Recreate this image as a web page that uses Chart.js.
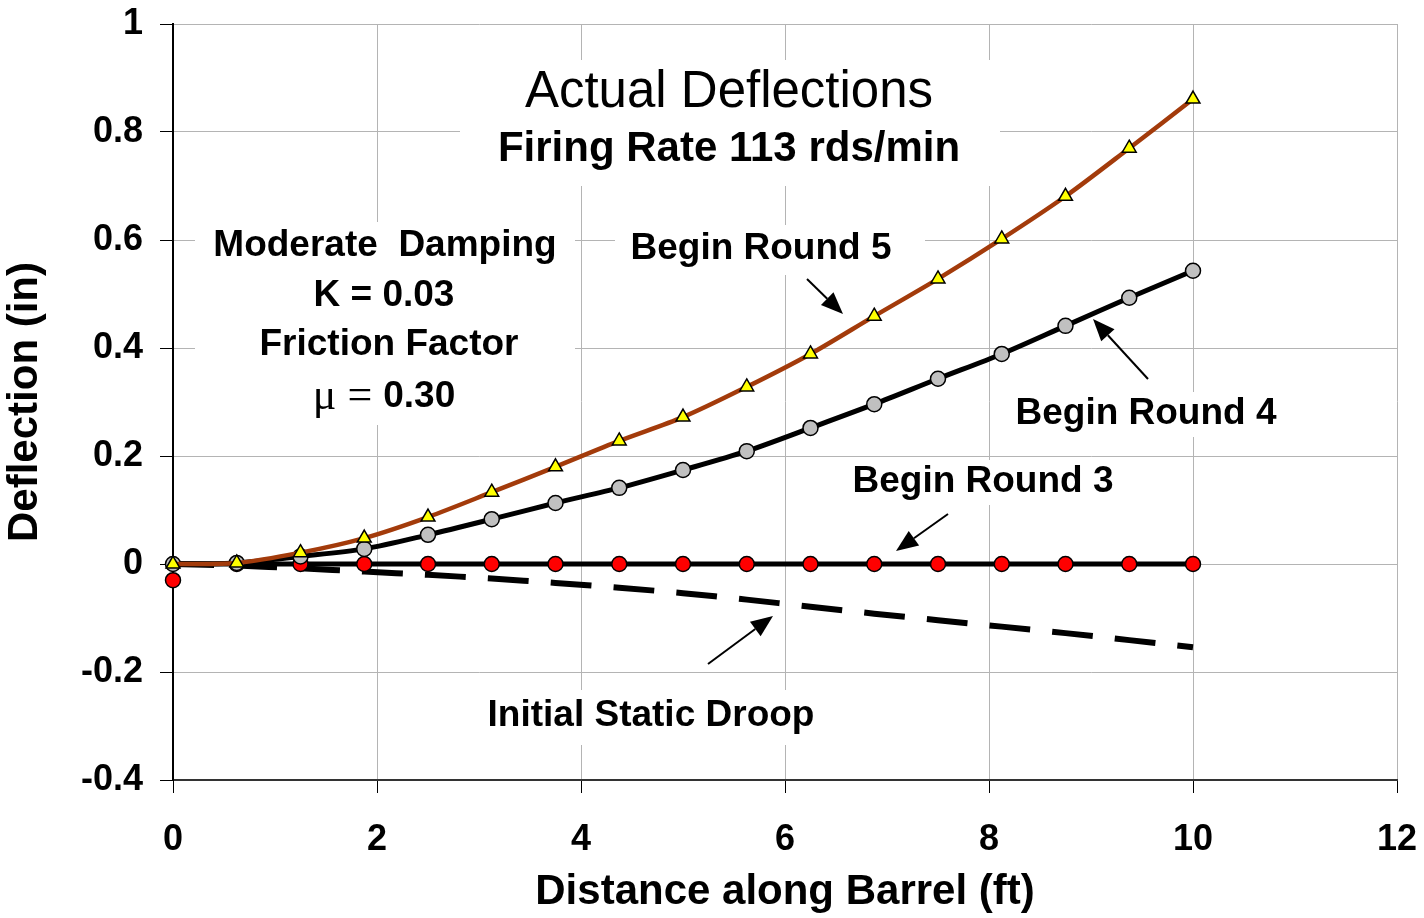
<!DOCTYPE html>
<html>
<head>
<meta charset="utf-8">
<script src="https://cdn.jsdelivr.net/npm/chart.js@4.4.1/dist/chart.umd.min.js"></script>
<style>
  body { margin: 0; background: #fff; }
  canvas { display: block; }
</style>
</head>
<body>
<canvas id="deflection-chart" width="1424" height="918"></canvas>
<script>
// distance along barrel (ft) for every sample
const distance = [0, 0.625, 1.25, 1.875, 2.5, 3.125, 3.75, 4.375, 5, 5.625, 6.25, 6.875, 7.5, 8.125, 8.75, 9.375, 10];

// deflections (in)
const round5 = [0, 0.002, 0.021, 0.048, 0.087, 0.133, 0.18, 0.228, 0.272, 0.328, 0.389, 0.459, 0.528, 0.602, 0.681, 0.77, 0.861];
const round4 = [0, 0.002, 0.014, 0.028, 0.054, 0.083, 0.113, 0.141, 0.174, 0.209, 0.252, 0.296, 0.343, 0.389, 0.441, 0.493, 0.543];
const round3 = [-0.03, 0, 0, 0, 0, 0, 0, 0, 0, 0, 0, 0, 0, 0, 0, 0, 0];
const round3Line = [0, 0, 0, 0, 0, 0, 0, 0, 0, 0, 0, 0, 0, 0, 0, 0, 0];
const staticDroop = [0, -0.003, -0.008, -0.014, -0.02, -0.027, -0.035, -0.044, -0.054, -0.066, -0.079, -0.092, -0.104, -0.116, -0.128, -0.141, -0.154];

const xTicks = { min: 0, max: 12, step: 2 };
const yTicks = { min: -0.4, max: 1, step: 0.2 };

const SANS = "'Liberation Sans', Arial, sans-serif";
const SERIF = "'Liberation Serif', 'Times New Roman', serif";

function toPoints(values) {
    return values.map(function (v, i) { return { x: distance[i], y: v }; });
}

// text boxes on the plot (white fill hides the grid behind them)
const boxes = [
    [460, 60, 540, 126],
    [195, 222, 380, 203],
    [615, 225, 310, 50],
    [1000, 392, 290, 45],
    [840, 460, 285, 45],
    [478, 690, 347, 55]
];

const notes = [
    { text: "Actual Deflections", x: 729, y: 93, font: "normal 51px " + SANS },
    { text: "Firing Rate 113 rds/min", x: 729, y: 149, font: "bold 42px " + SANS },
    { text: "Moderate  Damping", x: 385, y: 246, font: "bold 37px " + SANS },
    { text: "K = 0.03", x: 384, y: 296, font: "bold 37px " + SANS },
    { text: "Friction Factor", x: 389, y: 345, font: "bold 37px " + SANS },
    { text: "Begin Round 5", x: 761, y: 249, font: "bold 37px " + SANS },
    { text: "Begin Round 4", x: 1146, y: 414, font: "bold 37px " + SANS },
    { text: "Begin Round 3", x: 983, y: 482, font: "bold 37px " + SANS },
    { text: "Initial Static Droop", x: 651, y: 716, font: "bold 37px " + SANS }
];

const arrows = [
    [807, 279, 843, 314],
    [1148, 379, 1093, 319],
    [948, 514, 896, 551],
    [708, 664, 773, 616]
];

function drawArrow(ctx, x1, y1, x2, y2) {
    var ang = Math.atan2(y2 - y1, x2 - x1);
    var len = 22, half = 9;
    var bx = x2 - Math.cos(ang) * len, by = y2 - Math.sin(ang) * len;
    ctx.beginPath();
    ctx.moveTo(x1, y1);
    ctx.lineTo(bx, by);
    ctx.lineWidth = 2;
    ctx.strokeStyle = "#000";
    ctx.stroke();
    ctx.beginPath();
    ctx.moveTo(x2, y2);
    ctx.lineTo(bx - Math.sin(ang) * half, by + Math.cos(ang) * half);
    ctx.lineTo(bx + Math.sin(ang) * half, by - Math.cos(ang) * half);
    ctx.closePath();
    ctx.fillStyle = "#000";
    ctx.fill();
}

const annotations = {
    id: "annotations",
    beforeDatasetsDraw: function (chart) {
        var ctx = chart.ctx;
        ctx.save();
        ctx.fillStyle = "#fff";
        boxes.forEach(function (b) { ctx.fillRect(b[0], b[1], b[2], b[3]); });
        ctx.restore();
    },
    afterDraw: function (chart) {
        var ctx = chart.ctx;
        ctx.save();
        ctx.fillStyle = "#000";
        ctx.textAlign = "center";
        ctx.textBaseline = "middle";
        notes.forEach(function (n) {
            ctx.font = n.font;
            ctx.fillText(n.text, n.x, n.y);
        });

        // mu line: serif symbol, bold number
        var parts = [
            { t: "\u03bc", f: "normal 44px " + SERIF },
            { t: " = ", f: "normal 44px " + SERIF },
            { t: "0.30", f: "bold 37px " + SANS }
        ];
        var total = 0;
        parts.forEach(function (p) { ctx.font = p.f; p.w = ctx.measureText(p.t).width; total += p.w; });
        var x = 384 - total / 2;
        ctx.textAlign = "left";
        parts.forEach(function (p) {
            ctx.font = p.f;
            ctx.fillText(p.t, x, 397);
            x += p.w;
        });

        arrows.forEach(function (a) { drawArrow(ctx, a[0], a[1], a[2], a[3]); });
        ctx.restore();
    }
};

// pin the plot box where the reference has it
function fixPadding(scale) {
    scale.paddingTop = 0;
    scale.paddingBottom = 0;
    scale.paddingLeft = 0;
    scale.paddingRight = 0;
}

const config = {
    type: "line",
    data: {
        datasets: [
            {
                label: "Begin Round 5",
                data: toPoints(round5),
                borderColor: "#A33B0B",
                borderWidth: 4.5,
                tension: 0.3,
                clip: false,
                pointStyle: "triangle",
                pointRadius: 8,
                pointBackgroundColor: "#FFFF00",
                pointBorderColor: "#000",
                pointBorderWidth: 1.5
            },
            {
                label: "Begin Round 4",
                data: toPoints(round4),
                borderColor: "#000",
                borderWidth: 5,
                tension: 0.3,
                clip: false,
                pointStyle: "circle",
                pointRadius: 7.5,
                pointBackgroundColor: "#C0C0C0",
                pointBorderColor: "#000",
                pointBorderWidth: 1.5
            },
            {
                label: "Begin Round 3",
                data: toPoints(round3),
                showLine: false,
                clip: false,
                pointStyle: "circle",
                pointRadius: 7.5,
                pointBackgroundColor: "#FF0000",
                pointBorderColor: "#000",
                pointBorderWidth: 1.5
            },
            {
                label: "Round 3 line",
                data: toPoints(round3Line),
                borderColor: "#000",
                borderWidth: 5,
                pointRadius: 0
            },
            {
                label: "Initial Static Droop",
                data: toPoints(staticDroop),
                borderColor: "#000",
                borderWidth: 6,
                borderDash: [41, 22],
                tension: 0.3,
                pointRadius: 0
            }
        ]
    },
    options: {
        responsive: false,
        animation: false,
        events: [],
        layout: { padding: { top: 24, right: 27, left: 0, bottom: 0 } },
        plugins: { legend: { display: false }, tooltip: { enabled: false } },
        scales: {
            x: {
                type: "linear",
                min: xTicks.min,
                max: xTicks.max,
                afterFit: function (scale) { scale.height = 138; fixPadding(scale); },
                ticks: {
                    stepSize: xTicks.step,
                    padding: 25,
                    color: "#000",
                    font: { family: SANS, size: 36, weight: "bold" }
                },
                grid: { color: "#B4B4B4", lineWidth: 1, tickLength: 13, tickColor: "#000" },
                border: { color: "#333", width: 2 },
                title: {
                    display: true,
                    text: "Distance along Barrel (ft)",
                    color: "#000",
                    font: { family: SANS, size: 42, weight: "bold" },
                    padding: { top: 0, bottom: 0 }
                }
            },
            y: {
                min: yTicks.min,
                max: yTicks.max,
                afterFit: function (scale) { scale.width = 173; fixPadding(scale); },
                ticks: {
                    stepSize: yTicks.step,
                    padding: 17,
                    color: "#000",
                    font: { family: SANS, size: 36, weight: "bold" },
                    callback: function (v) { return String(Math.round(v * 10) / 10); }
                },
                grid: { color: "#B4B4B4", lineWidth: 1, tickLength: 13, tickColor: "#000" },
                border: { color: "#000", width: 2 },
                title: {
                    display: true,
                    text: "Deflection (in)",
                    color: "#000",
                    font: { family: SANS, size: 42, weight: "bold" },
                    padding: { top: 0, bottom: 8 }
                }
            }
        }
    },
    plugins: [annotations]
};

const deflectionChart = new Chart(document.getElementById("deflection-chart"), config);
</script>
</body>
</html>
